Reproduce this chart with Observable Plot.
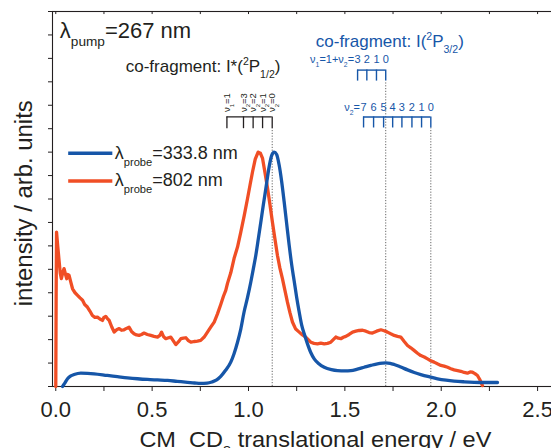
<!DOCTYPE html>
<html><head><meta charset="utf-8">
<script src="https://cdn.jsdelivr.net/npm/d3@7"></script>
<script src="https://cdn.jsdelivr.net/npm/@observablehq/plot@0.6"></script>
<style>
html,body{margin:0;padding:0;background:#fff;overflow:hidden;width:551px;height:448px;}
#chart{width:551px;height:448px;overflow:hidden;}
#chart svg{max-width:none !important;}
</style></head><body><div id="chart"></div>
<script>
// ---- data ----
const blueEnergy = [0.035,0.045,0.061,0.078,0.095,0.130,0.165,0.199,0.268,0.320,0.372,0.424,0.476,0.528,0.580,0.630,0.683,0.720,0.752,0.785,0.810,0.835,0.856,0.880,0.908,0.925,0.943,0.960,0.977,0.995,1.012,1.025,1.038,1.051,1.064,1.077,1.090,1.107,1.120,1.133,1.146,1.159,1.172,1.185,1.198,1.211,1.224,1.237,1.250,1.263,1.276,1.289,1.306,1.323,1.341,1.365,1.393,1.430,1.462,1.500,1.531,1.565,1.600,1.635,1.669,1.695,1.712,1.735,1.756,1.790,1.825,1.860,1.894,1.940,1.981,2.025,2.067,2.120,2.171,2.230,2.292];
const blueIntensity = [0.0,0.12,0.33,0.45,0.51,0.57,0.56,0.54,0.47,0.42,0.37,0.33,0.30,0.28,0.26,0.22,0.18,0.15,0.13,0.14,0.19,0.28,0.43,0.68,1.04,1.40,1.89,2.45,3.18,3.80,4.46,5.02,5.60,6.30,7.02,7.75,8.45,9.37,9.85,10.00,9.90,9.45,8.75,7.88,6.95,6.03,5.20,4.50,3.80,3.18,2.62,2.25,1.82,1.45,1.18,0.97,0.82,0.72,0.68,0.67,0.68,0.74,0.82,0.90,0.97,1.00,1.01,0.99,0.94,0.83,0.71,0.60,0.51,0.41,0.33,0.27,0.23,0.20,0.18,0.17,0.17];
const redEnergy = [0.000,0.002,0.004,0.010,0.017,0.023,0.029,0.036,0.043,0.050,0.057,0.063,0.069,0.078,0.087,0.100,0.113,0.126,0.139,0.150,0.164,0.177,0.190,0.203,0.216,0.229,0.242,0.250,0.259,0.268,0.277,0.290,0.303,0.316,0.329,0.341,0.354,0.367,0.380,0.393,0.406,0.419,0.432,0.445,0.458,0.475,0.493,0.510,0.528,0.540,0.549,0.560,0.571,0.585,0.597,0.610,0.623,0.636,0.649,0.662,0.675,0.688,0.701,0.718,0.735,0.752,0.770,0.787,0.804,0.822,0.839,0.856,0.870,0.882,0.891,0.908,0.925,0.943,0.960,0.978,0.995,1.008,1.021,1.035,1.050,1.062,1.073,1.086,1.099,1.112,1.124,1.137,1.150,1.163,1.176,1.189,1.202,1.215,1.228,1.245,1.263,1.280,1.297,1.310,1.323,1.340,1.358,1.375,1.393,1.410,1.427,1.440,1.453,1.466,1.479,1.492,1.505,1.522,1.540,1.557,1.574,1.592,1.609,1.626,1.643,1.665,1.687,1.704,1.721,1.738,1.756,1.773,1.790,1.808,1.825,1.842,1.859,1.877,1.894,1.912,1.929,1.946,1.963,1.980,1.998,2.015,2.033,2.050,2.067,2.085,2.102,2.119,2.136,2.150,2.162,2.175,2.188,2.200,2.214];
const redIntensity = [0.0,4.0,6.59,6.0,5.38,4.85,4.60,4.85,5.03,4.80,4.60,4.78,4.74,4.45,4.17,4.00,3.89,3.78,3.68,3.50,3.39,3.22,3.03,2.95,2.96,2.88,2.82,2.95,2.99,2.90,2.82,2.55,2.32,2.42,2.47,2.40,2.42,2.48,2.53,2.35,2.25,2.20,2.18,2.22,2.28,2.22,2.18,2.14,2.11,2.18,2.32,2.12,2.04,2.08,2.11,1.95,1.79,1.90,2.04,2.06,2.08,1.96,1.89,1.92,1.94,1.97,2.11,2.32,2.53,2.75,3.10,3.50,3.85,4.10,4.40,4.85,5.46,5.95,6.59,7.30,8.02,8.60,9.16,9.70,10.00,9.95,9.73,9.10,8.45,7.72,7.02,6.30,5.60,5.05,4.60,4.10,3.60,3.15,2.75,2.45,2.32,2.20,2.11,2.00,1.89,1.84,1.82,1.85,1.82,1.84,1.89,2.00,2.11,2.06,2.04,2.10,2.14,2.22,2.32,2.36,2.39,2.40,2.36,2.30,2.28,2.36,2.42,2.38,2.32,2.25,2.18,2.14,2.11,1.92,1.75,1.65,1.54,1.42,1.32,1.26,1.18,1.10,1.04,0.97,0.90,0.87,0.82,0.76,0.71,0.68,0.65,0.60,0.57,0.62,0.61,0.55,0.47,0.30,0.04];

// vibrational combs
const combIstarEnergy = [0.888, 0.974, 1.024, 1.073, 1.123];
const combIstarLabels = ["ν_{1}=1", "ν_{2}=3", "ν_{2}=2", "ν_{2}=1", "ν_{2}=0"];
const combIupperEnergy = [1.566, 1.614, 1.664, 1.712];
const combIupperLabels = ["3", "2", "1", "0"];
const combIlowerEnergy = [1.597, 1.649, 1.701, 1.748, 1.796, 1.848, 1.898, 1.946];
const combIlowerLabels = ["7", "6", "5", "4", "3", "2", "1", "0"];

// axis ticks
const xTicks = [0, 0.25, 0.5, 0.75, 1, 1.25, 1.5, 1.75, 2, 2.25, 2.5];
const xTickLabels = ["0.0", "", "0.5", "", "1.0", "", "1.5", "", "2.0", "", "2.5"];
const yTicks = [0,1,2,3,4,5,6,7,8,9,10,11,12,13,14,15,16];

// legend / series labels
const seriesNames = ["λ_{probe}=333.8 nm", "λ_{probe}=802 nm"];
const xTitle = "CM\u00a0 CD_{3} translational energy / eV";
const yTitle = "intensity / arb. units";
const BLUE = "#1656a8", RED = "#f04e25", INK = "#231f20";

const blue = blueEnergy.map((x, i) => ({x, y: blueIntensity[i]}));
const red = redEnergy.map((x, i) => ({x, y: redIntensity[i]}));

const chart = Plot.plot({
  width: 566, height: 448,
  marginLeft: 52, marginRight: 0, marginTop: 11, marginBottom: 62,
  x: {domain: [-0.017, 2.65]},
  y: {domain: [0, 16]},
  style: {fontFamily: "'Liberation Sans', Arial, sans-serif", color: INK, background: "white", maxWidth: "none"},
  marks: [
    Plot.frame({stroke: INK, strokeWidth: 1.1}),
    Plot.axisX({ticks: xTicks, tickFormat: (d, i) => xTickLabels[i], tickSize: 5, tickPadding: 10, fontSize: 22, label: null, stroke: INK}),
    Plot.ruleX(xTicks, {y1: 16, y2: 15.87, stroke: INK, strokeWidth: 1}),
    Plot.axisY({ticks: yTicks, tickFormat: () => "", tickSize: 4, label: null, stroke: INK}),
    // dotted guide lines at the v=0 positions
    Plot.ruleX([combIstarEnergy[combIstarEnergy.length - 1]], {y1: 0, y2: 11.0, stroke: "#666", strokeDasharray: "1.2,1.6", strokeWidth: 1}),
    Plot.ruleX([combIupperEnergy[combIupperEnergy.length - 1]], {y1: 0, y2: 13.03, stroke: "#666", strokeDasharray: "1.2,1.6", strokeWidth: 1}),
    Plot.ruleX([combIlowerEnergy[combIlowerEnergy.length - 1]], {y1: 0, y2: 11.03, stroke: "#666", strokeDasharray: "1.2,1.6", strokeWidth: 1}),
    // curves
    Plot.line(red, {x: "x", y: "y", stroke: RED, strokeWidth: 3.3, curve: "linear"}),
    Plot.line(blue, {x: "x", y: "y", stroke: BLUE, strokeWidth: 3.3, curve: "monotone-x"}),
    // combs
    Plot.ruleY([11.5], {x1: d3.min(combIstarEnergy), x2: d3.max(combIstarEnergy), stroke: INK, strokeWidth: 1.3}),
    Plot.ruleX(combIstarEnergy, {y1: 11.0, y2: 11.5, stroke: INK, strokeWidth: 1.3}),
    Plot.ruleY([13.5], {x1: d3.min(combIupperEnergy), x2: d3.max(combIupperEnergy), stroke: BLUE, strokeWidth: 1.4}),
    Plot.ruleX(combIupperEnergy, {y1: 13.03, y2: 13.5, stroke: BLUE, strokeWidth: 1.4}),
    Plot.ruleY([11.5], {x1: d3.min(combIlowerEnergy), x2: d3.max(combIlowerEnergy), stroke: BLUE, strokeWidth: 1.4}),
    Plot.ruleX(combIlowerEnergy, {y1: 11.03, y2: 11.5, stroke: BLUE, strokeWidth: 1.4}),
    // comb labels
    Plot.text(combIstarLabels, {x: (d, i) => combIstarEnergy[i], y: 11.71, rotate: -90, textAnchor: "start", lineAnchor: "middle", fontSize: 9.5, fill: INK}),
    Plot.text(combIupperLabels, {x: (d, i) => combIupperEnergy[i], y: 13.80, lineAnchor: "bottom", fontSize: 11, fill: BLUE}),
    Plot.text(["ν_{1}=1+ν_{2}="], {x: combIupperEnergy[0], y: 13.80, dx: -3.5, textAnchor: "end", lineAnchor: "bottom", fontSize: 11, fill: BLUE}),
    Plot.text(combIlowerLabels, {x: (d, i) => combIlowerEnergy[i], y: 11.76, lineAnchor: "bottom", fontSize: 11, fill: BLUE}),
    Plot.text(["ν_{2}="], {x: combIlowerEnergy[0], y: 11.76, dx: -3.5, textAnchor: "end", lineAnchor: "bottom", fontSize: 11, fill: BLUE}),
    // headings
    Plot.text(["λ_{pump}=267 nm"], {x: 0.021, y: 14.87, textAnchor: "start", lineAnchor: "bottom", fontSize: 22, fill: INK}),
    Plot.text(["co-fragment: I*(^{2}P_{1/2})"], {x: 0.363, y: 13.42, textAnchor: "start", lineAnchor: "bottom", fontSize: 17, fill: INK}),
    Plot.text(["co-fragment: I(^{2}P_{3/2})"], {x: 1.349, y: 14.50, textAnchor: "start", lineAnchor: "bottom", fontSize: 17, fill: BLUE}),
    // legend
    Plot.ruleY([9.95], {x1: 0.067, x2: 0.296, stroke: BLUE, strokeWidth: 3.5}),
    Plot.ruleY([8.77], {x1: 0.067, x2: 0.296, stroke: RED, strokeWidth: 3.5}),
    Plot.text([seriesNames[0]], {x: 0.306, y: 9.69, textAnchor: "start", lineAnchor: "bottom", fontSize: 18, fill: INK}),
    Plot.text([seriesNames[1]], {x: 0.306, y: 8.55, textAnchor: "start", lineAnchor: "bottom", fontSize: 18, fill: INK}),
    // axis titles
    Plot.text([xTitle], {x: 1.347, y: -2.56, lineAnchor: "bottom", fontSize: 22, fill: INK}),
    Plot.text([yTitle], {x: -0.161, y: 7.82, rotate: -90, lineAnchor: "middle", fontSize: 23, fill: INK})
  ]
});

chart.style.maxWidth = "none";
document.getElementById("chart").appendChild(chart);

// turn _{..} and ^{..} markup into real sub/superscript tspans
function richify(svg) {
  d3.select(svg).selectAll("text").each(function() {
    const el = this;
    const s = el.textContent;
    if (!/[_^]\{/.test(s)) return;
    const fs = parseFloat(getComputedStyle(el).fontSize) || 12;
    const re = /([_^])\{([^}]*)\}/g;
    let last = 0, m; const parts = [];
    while ((m = re.exec(s))) {
      if (m.index > last) parts.push({t: s.slice(last, m.index), k: "n"});
      parts.push({t: m[2], k: m[1] === "_" ? "sub" : "sup"});
      last = re.lastIndex;
    }
    if (last < s.length) parts.push({t: s.slice(last), k: "n"});
    while (el.firstChild) el.removeChild(el.firstChild);
    let cur = 0;
    for (const p of parts) {
      const ts = document.createElementNS("http://www.w3.org/2000/svg", "tspan");
      const off = p.k === "sub" ? fs * 0.38 : p.k === "sup" ? -fs * 0.42 : 0;
      ts.setAttribute("dy", (off - cur).toFixed(2));
      cur = off;
      if (p.k !== "n") ts.setAttribute("font-size", (fs * 0.62).toFixed(2));
      ts.textContent = p.t;
      el.appendChild(ts);
    }
  });
}
// stretch the axis titles to the reference's wide lettering
d3.select(chart).selectAll("text").each(function() {
  const t = this.textContent;
  if (t === xTitle) { this.setAttribute("textLength", 352); this.setAttribute("lengthAdjust", "spacingAndGlyphs"); }
  if (t === yTitle) { this.setAttribute("textLength", 206); this.setAttribute("lengthAdjust", "spacingAndGlyphs"); }
});
richify(chart);
</script></body></html>
